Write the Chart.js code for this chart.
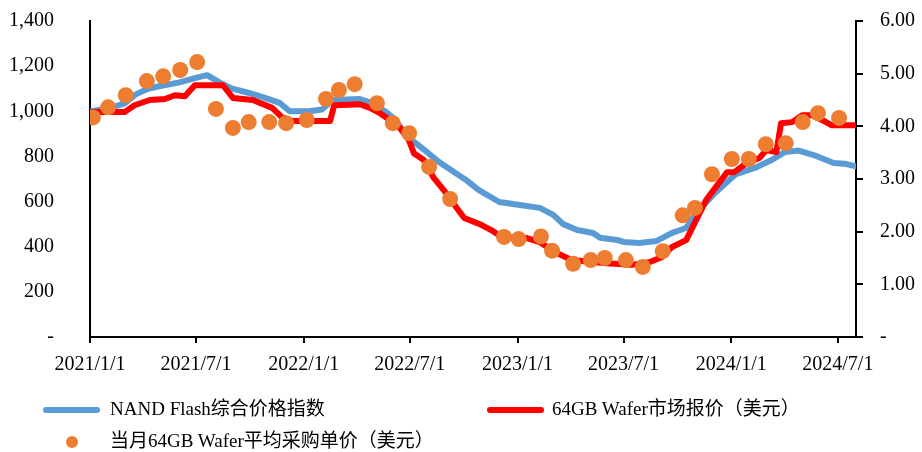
<!DOCTYPE html>
<html>
<head>
<meta charset="utf-8">
<script src="https://cdn.jsdelivr.net/npm/chart.js@4"></script>
<style>
  body { margin: 0; background: #fff; }
  #wrap { position: relative; width: 922px; height: 452px; }
  #legend { position: absolute; left: 0; top: 0; width: 922px; height: 452px; pointer-events: none;
            font-family: 'Liberation Serif', 'Noto Sans CJK SC', serif; font-size: 19px; color: #000; }
  .item { position: absolute; white-space: nowrap; line-height: 20px; }
  .swatch { position: absolute; }
</style>
</head>
<body>
<div id="wrap">
  <canvas id="chart" width="922" height="452"></canvas>
  <div id="legend"></div>
</div>
<script>
// tick labels on the date axis
const tickLabels = ['2021/1/1', '2021/7/1', '2022/1/1', '2022/7/1', '2023/1/1', '2023/7/1', '2024/1/1', '2024/7/1'];
const axisStart = '2021/1/1';
const axisEnd = '2024/8/1';

// NAND Flash综合价格指数 (left axis)
const blueDates = ['2021-01-01','2021-02-01','2021-03-01','2021-03-20','2021-04-10','2021-05-01','2021-06-01','2021-07-01','2021-07-20','2021-08-10',
  '2021-08-29','2021-10-01','2021-10-23','2021-11-21','2021-12-08','2022-01-10','2022-02-01','2022-02-20','2022-04-07','2022-04-24',
  '2022-05-20','2022-06-03','2022-07-01','2022-07-29','2022-08-20','2022-10-05','2022-10-27','2022-12-01','2023-01-05','2023-02-08',
  '2023-03-03','2023-03-20','2023-04-13','2023-05-10','2023-05-22','2023-06-20','2023-07-01','2023-07-28','2023-08-26','2023-09-22',
  '2023-10-16','2023-11-02','2023-12-05','2024-01-08','2024-02-10','2024-03-10','2024-04-02','2024-04-25','2024-05-25','2024-06-24',
  '2024-07-12','2024-08-01'];
const blueValues = [1000, 1012, 1035, 1075, 1100, 1112, 1127, 1148, 1160, 1128,
  1103, 1080, 1063, 1037, 1000, 1000, 1008, 1050, 1054, 1040,
  1000, 970, 880, 822, 775, 696, 651, 598, 585, 572,
  541, 500, 474, 461, 440, 430, 421, 416, 425, 461,
  483, 549, 640, 720, 749, 784, 820, 826, 802, 771,
  768, 756];

// 64GB Wafer市场报价 (right axis)
const redDates = ['2021-01-01','2021-03-01','2021-03-18','2021-04-13','2021-05-09','2021-05-26','2021-06-12','2021-06-29','2021-08-16','2021-09-02',
  '2021-10-06','2021-11-08','2021-11-25','2021-12-13','2022-02-15','2022-02-22','2022-04-07','2022-04-24','2022-05-11','2022-05-28',
  '2022-06-14','2022-06-29','2022-07-08','2022-07-25','2022-08-11','2022-08-28','2022-09-18','2022-10-02','2022-10-31','2022-11-17',
  '2022-12-05','2023-01-16','2023-02-08','2023-03-10','2023-04-04','2023-06-01','2023-07-15','2023-08-14','2023-09-05','2023-09-22',
  '2023-10-16','2023-11-02','2023-11-19','2023-12-06','2023-12-25','2024-01-06','2024-01-27','2024-02-18','2024-03-01','2024-03-18',
  '2024-03-26','2024-04-14','2024-05-01','2024-05-18','2024-06-04','2024-06-21','2024-08-01'];
const redValues = [4.27, 4.27, 4.40, 4.50, 4.52, 4.59, 4.57, 4.78, 4.78, 4.54,
  4.50, 4.35, 4.17, 4.10, 4.10, 4.40, 4.42, 4.35, 4.25, 4.12,
  3.97, 3.75, 3.49, 3.36, 3.02, 2.79, 2.47, 2.26, 2.13, 2.03,
  1.90, 1.88, 1.80, 1.59, 1.46, 1.40, 1.37, 1.42, 1.52, 1.71,
  1.84, 2.22, 2.60, 2.85, 3.13, 3.13, 3.30, 3.40, 3.55, 3.51,
  4.06, 4.08, 4.21, 4.21, 4.12, 4.02, 4.02];

// 当月64GB Wafer平均采购单价 (right axis)
const dotDates = ['2021-01-06','2021-02-01','2021-03-03','2021-04-08','2021-05-06','2021-06-04','2021-07-03','2021-08-04','2021-09-02','2021-09-29',
  '2021-11-03','2021-12-02','2022-01-06','2022-02-08','2022-03-02','2022-03-29','2022-05-06','2022-06-02','2022-06-30','2022-08-03',
  '2022-09-08','2022-12-09','2023-01-03','2023-02-10','2023-03-01','2023-04-06','2023-05-06','2023-05-30','2023-07-05','2023-08-03',
  '2023-09-06','2023-10-10','2023-10-31','2023-11-29','2024-01-02','2024-01-31','2024-02-29','2024-04-03','2024-05-02','2024-05-28',
  '2024-07-03'];
const dotValues = [4.17, 4.36, 4.59, 4.86, 4.95, 5.07, 5.22, 4.33, 3.97, 4.08,
  4.08, 4.06, 4.12, 4.52, 4.69, 4.80, 4.44, 4.06, 3.87, 3.23,
  2.62, 1.90, 1.86, 1.91, 1.64, 1.39, 1.46, 1.50, 1.46, 1.33,
  1.63, 2.31, 2.45, 3.09, 3.38, 3.38, 3.66, 3.68, 4.08, 4.25,
  4.16];

const toMs = s => {
    const [y, m, d] = s.split(/[-\/]/).map(Number);
    return Date.UTC(y, m - 1, d);
};
const pairs = (dates, values) => dates.map((d, i) => ({ x: toMs(d), y: values[i] }));

const tickFont = { family: "'Liberation Serif', 'Times New Roman', serif", size: 20 };

// fixed axis box, and no extra top/bottom room from the tick padding
function fixWidth(width) {
    return scale => {
        scale.width = width;
        scale.paddingTop = 0;
        scale.paddingBottom = 0;
    };
}

const ctx = document.getElementById('chart').getContext('2d');
const chart = new Chart(ctx, {
    type: 'line',
    data: {
        datasets: [
            {
                label: 'NAND Flash综合价格指数',
                data: pairs(blueDates, blueValues),
                yAxisID: 'y',
                borderColor: '#5B9BD5',
                backgroundColor: '#5B9BD5',
                borderWidth: 6,
                pointRadius: 0,
                borderJoinStyle: 'round',
                borderCapStyle: 'round',
                order: 3
            },
            {
                label: '64GB Wafer市场报价（美元）',
                data: pairs(redDates, redValues),
                yAxisID: 'y1',
                borderColor: '#FF0000',
                backgroundColor: '#FF0000',
                borderWidth: 6,
                pointRadius: 0,
                borderJoinStyle: 'round',
                borderCapStyle: 'round',
                order: 2
            },
            {
                label: '当月64GB Wafer平均采购单价（美元）',
                data: pairs(dotDates, dotValues),
                yAxisID: 'y1',
                showLine: false,
                borderColor: '#ED7D31',
                backgroundColor: '#ED7D31',
                pointRadius: 8,
                pointBorderWidth: 0,
                order: 1
            }
        ]
    },
    options: {
        responsive: false,
        animation: false,
        layout: { padding: { top: 21, left: 0, right: 0, bottom: 0 } },
        plugins: { legend: { display: false }, tooltip: { enabled: false } },
        scales: {
            x: {
                type: 'linear',
                min: toMs(axisStart),
                max: toMs(axisEnd),
                afterBuildTicks: scale => {
                    scale.ticks = tickLabels.map(t => ({ value: toMs(t) }));
                },
                afterFit: scale => {
                    scale.height = 115;
                    scale.paddingLeft = 0;
                    scale.paddingRight = 0;
                },
                ticks: {
                    color: '#000',
                    font: tickFont,
                    padding: 10,
                    maxRotation: 0,
                    autoSkip: false,
                    callback: value => {
                        const d = new Date(value);
                        return d.getUTCFullYear() + '/' + (d.getUTCMonth() + 1) + '/' + d.getUTCDate();
                    }
                },
                grid: { drawOnChartArea: false, color: '#000', lineWidth: 2, tickLength: 6 },
                border: { color: '#000', width: 2 }
            },
            y: {
                position: 'left',
                min: 0,
                max: 1400,
                afterFit: fixWidth(90),
                ticks: {
                    stepSize: 200,
                    color: '#000',
                    font: tickFont,
                    padding: 28,
                    callback: v => v === 0 ? '-' : v.toLocaleString('en-US')
                },
                grid: { display: false },
                border: { color: '#000', width: 2 }
            },
            y1: {
                position: 'right',
                min: 0,
                max: 6,
                afterFit: fixWidth(66),
                ticks: {
                    stepSize: 1,
                    color: '#000',
                    font: tickFont,
                    padding: 17,
                    callback: v => v === 0 ? '-' : v.toFixed(2)
                },
                grid: { drawOnChartArea: false, color: '#000', lineWidth: 2, tickLength: 7 },
                border: { color: '#000', width: 2 }
            }
        }
    }
});

// legend drawn as html below the plot
const legendSpots = [
    { x: 43, y: 410, text: 110 },
    { x: 487, y: 410, text: 552 },
    { x: 66, y: 442, text: 110 }
];
const legend = document.getElementById('legend');
chart.data.datasets.forEach((ds, i) => {
    const spot = legendSpots[i];
    const sw = document.createElement('div');
    sw.className = 'swatch';
    if (ds.showLine === false) {
        sw.style.cssText = `left:${spot.x}px;top:${spot.y - 6}px;width:12px;height:12px;border-radius:50%;background:${ds.backgroundColor};`;
    } else {
        sw.style.cssText = `left:${spot.x}px;top:${spot.y - 3}px;width:57px;height:6px;border-radius:3px;background:${ds.borderColor};`;
    }
    legend.appendChild(sw);
    const label = document.createElement('div');
    label.className = 'item';
    label.style.left = spot.text + 'px';
    label.style.top = (spot.y - 11) + 'px';
    label.textContent = ds.label;
    legend.appendChild(label);
});
</script>
</body>
</html>
